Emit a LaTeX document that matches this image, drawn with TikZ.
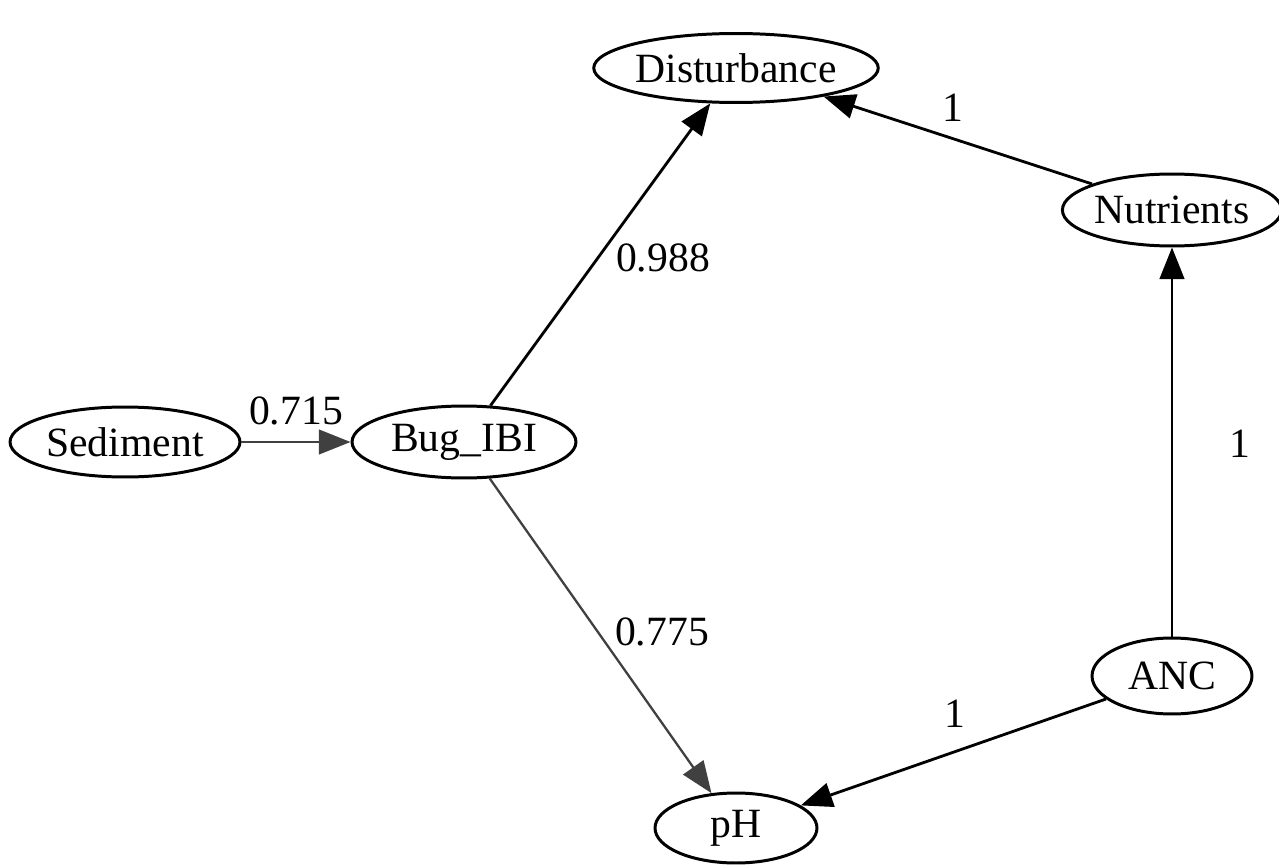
\documentclass[tikz,border=0pt]{standalone}
\usepackage{fontspec}
\setmainfont{Liberation Serif}
\usepackage{tikz}
\usetikzlibrary{shapes.geometric, arrows.meta, positioning}

\begin{document}
\begin{tikzpicture}[
        x=0.02cm, y=-0.02cm,
        var/.style={ellipse, draw=black, line width=1.7pt, inner sep=0pt, font=\fontsize{23.7}{28}\selectfont},
        link/.style={-{Triangle[length=18pt, width=14pt]}, line width=1.6pt, color=black},
        weaklink/.style={-{Triangle[length=18pt, width=14pt]}, line width=1.3pt, color=black!75},
        weight/.style={font=\fontsize{23.7}{28}\selectfont, inner sep=0pt}
    ]
        \useasboundingbox (0,0) rectangle (1279,865);

        % Variables
        \node[var, minimum width=5.52cm, minimum height=1.38cm] (dist) at (736,68) {Disturbance};
        \node[var, minimum width=4.36cm, minimum height=1.44cm] (nutr) at (1172,210) {Nutrients};
        \node[var, minimum width=4.6cm, minimum height=1.4cm] (sed) at (125,442) {Sediment};
        \node[var, minimum width=4.48cm, minimum height=1.44cm] (bug) at (464,442) {Bug\_IBI};
        \node[var, minimum width=3.2cm, minimum height=1.52cm] (anc) at (1172,676) {ANC};
        \node[var, minimum width=3.24cm, minimum height=1.4cm] (ph) at (736,828) {pH};

        % Aristas
        \draw[weaklink] (sed) -- (bug);
        \draw[link] (bug) -- (dist);
        \draw[link] (nutr) -- (dist);
        \draw[weaklink] (bug) -- (ph);
        \draw[link] (anc) -- (nutr);
        \draw[link] (anc) -- (ph);

        % Pesos
        \node[weight] (w1) at (296,411) {0.715};
        \node[weight] (w2) at (663,258) {0.988};
        \node[weight] (w3) at (953,108) {1};
        \node[weight] (w4) at (662,632) {0.775};
        \node[weight] (w5) at (1240,444) {1};
        \node[weight] (w6) at (955,714) {1};
    \end{tikzpicture}
\end{document}
